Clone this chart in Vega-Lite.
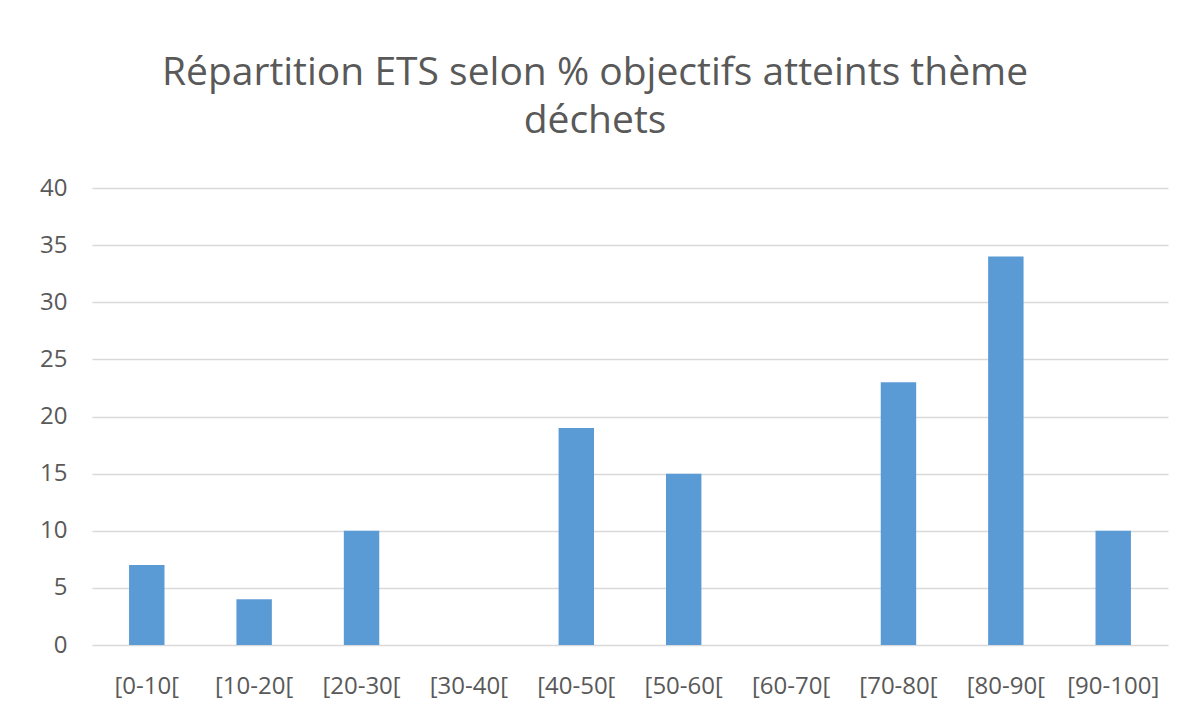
{
  "$schema": "https://vega.github.io/schema/vega-lite/v6.json",
  "width": 1076,
  "height": 457,
  "autosize": {"type": "none"},
  "padding": {"left": 92, "top": 188, "right": 30, "bottom": 72},
  "background": "white",
  "title": {
    "text": ["Répartition ETS selon % objectifs atteints thème", "déchets"],
    "font": "Open Sans",
    "fontSize": 39,
    "fontWeight": "normal",
    "color": "#595959",
    "anchor": "middle",
    "frame": "group",
    "dx": -35,
    "offset": 35,
    "lineHeight": 48
  },
  "data": {
    "values": [
      {"classe": "[0-10[", "n": 7},
      {"classe": "[10-20[", "n": 4},
      {"classe": "[20-30[", "n": 10},
      {"classe": "[30-40[", "n": 0},
      {"classe": "[40-50[", "n": 19},
      {"classe": "[50-60[", "n": 15},
      {"classe": "[60-70[", "n": 0},
      {"classe": "[70-80[", "n": 23},
      {"classe": "[80-90[", "n": 34},
      {"classe": "[90-100]", "n": 10}
    ]
  },
  "mark": {"type": "bar", "color": "#5B9BD5"},
  "encoding": {
    "x": {
      "field": "classe",
      "type": "nominal",
      "sort": null,
      "scale": {"paddingInner": 0.67, "paddingOuter": 0.345},
      "axis": {
        "title": null,
        "labelAngle": 0,
        "domain": false,
        "ticks": false,
        "labelFont": "Open Sans",
        "labelFontSize": 24,
        "labelColor": "#595959",
        "labelPadding": 29
      }
    },
    "y": {
      "field": "n",
      "type": "quantitative",
      "scale": {"domain": [0, 40]},
      "axis": {
        "title": null,
        "values": [0, 5, 10, 15, 20, 25, 30, 35, 40],
        "domain": false,
        "ticks": false,
        "grid": true,
        "gridColor": "#d9d9d9",
        "gridWidth": 1.5,
        "labelFont": "Open Sans",
        "labelFontSize": 24,
        "labelColor": "#595959",
        "labelPadding": 25
      }
    }
  },
  "config": {"view": {"stroke": null}}
}
